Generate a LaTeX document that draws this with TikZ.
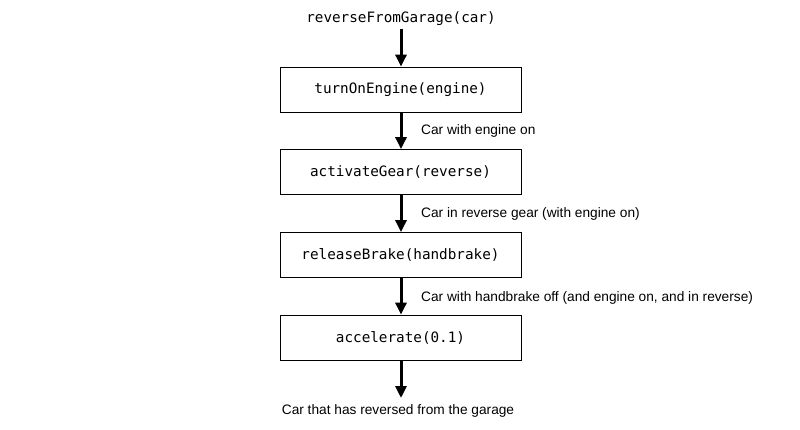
\documentclass[tikz,border=0pt]{standalone}
\usepackage{fontspec}
\setmainfont{Liberation Sans}
\setmonofont{DejaVu Sans Mono}
\usetikzlibrary{arrows.meta}
\tikzset{
  fn/.style={draw, line width=0.8pt, minimum width=241pt, minimum height=45pt, inner sep=0pt, font=\fontsize{14.3}{16}\selectfont\ttfamily},
  flow/.style={line width=3pt, -{Triangle[width=11pt,length=12pt]}},
  lbl/.style={anchor=west, inner sep=0pt, font=\fontsize{13.7}{16}\selectfont},
  mono/.style={inner sep=0pt, font=\fontsize{14.3}{16}\selectfont\ttfamily}
}
\begin{document}
\begin{tikzpicture}[x=1pt,y=-1pt]
\useasboundingbox[fill=white] (0,0) rectangle (800,430);
\node[mono] (start) at (401,18.5) {reverseFromGarage(car)};
\node[fn] (b1) at (400.5,89.5) {\raisebox{-1pt}{turnOnEngine(engine)}};
\node[fn] (b2) at (400.5,172) {\raisebox{-1pt}{activateGear(reverse)}};
\node[fn] (b3) at (400.5,255) {\raisebox{-1pt}{releaseBrake(handbrake)}};
\node[fn] (b4) at (400.5,337.5) {\raisebox{-1pt}{accelerate(0.1)}};
\node[inner sep=0pt, font=\fontsize{13.7}{16}\selectfont] (end) at (398,411) {Car that has reversed from the garage};
\coordinate (s0) at (401,29);
\coordinate (e0) at (401,398);
\draw[flow] (s0) -- (s0 |- b1.north);
\draw[flow] (b1.south -| s0) -- (b2.north -| s0);
\draw[flow] (b2.south -| s0) -- (b3.north -| s0);
\draw[flow] (b3.south -| s0) -- (b4.north -| s0);
\draw[flow] (b4.south -| s0) -- (e0);
\node[lbl] (l1) at (421,131) {Car with engine on};
\node[lbl] (l2) at (421,214) {Car in reverse gear (with engine on)};
\node[lbl] (l3) at (421,298) {Car with handbrake off (and engine on, and in reverse)};
\end{tikzpicture}
\end{document}
